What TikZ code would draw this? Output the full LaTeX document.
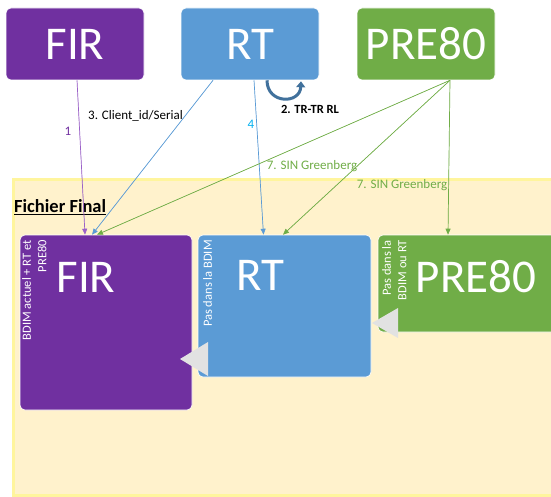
\documentclass[tikz,border=0pt]{standalone}
\usepackage{fontspec}
\setmainfont{Carlito}
\usetikzlibrary{arrows.meta}
\definecolor{cpurple}{HTML}{7030A0}
\definecolor{cblue}{HTML}{5B9BD5}
\definecolor{cgreen}{HTML}{70AD47}
\definecolor{lpurple}{HTML}{9B62C8}
\definecolor{lcyan}{HTML}{00B0F0}
\definecolor{cloop}{HTML}{41719C}
\definecolor{cfill}{HTML}{FFF2CC}
\definecolor{cedge}{HTML}{FFF59D}
\definecolor{cgray}{HTML}{E2E2E2}
\tikzset{
  box/.style={rounded corners=5pt, draw=white, line width=0.6pt, text=white, inner sep=0pt},
  topbox/.style={box, minimum width=138pt, minimum height=72pt, font=\fontsize{47}{50}\selectfont},
  biglabel/.style={text=white, inner sep=0pt, font=\fontsize{47}{50}\selectfont},
  vlabel/.style={text=white, rotate=90, anchor=north east, align=right, inner sep=0pt, font=\fontsize{12.5}{15.5}\selectfont},
  conn/.style={line width=0.7pt, -{Triangle[length=6pt,width=5pt]}},
  lbl/.style={inner sep=0pt, font=\fontsize{13}{15}\selectfont},
  tri/.style={fill=cgray, draw=none}
}
\begin{document}
\begin{tikzpicture}[x=1pt,y=-1pt]
\useasboundingbox (0,0) rectangle (551,497);
% container
\path[fill=cfill, draw=cedge, line width=3pt] (13,180) rectangle (570,495);
\node[anchor=west, inner sep=0pt, font=\fontsize{18.5}{20}\selectfont\bfseries] (ff) at (14,207) {\underline{Fichier Final}};
% top boxes
\node[topbox, fill=cpurple] (fir) at (75,44) {FIR};
\node[topbox, fill=cblue] (rt) at (250,44) {RT};
\node[topbox, fill=cgreen] (pre) at (426,44) {PRE80};
% bottom boxes
\node[box, fill=cpurple, minimum width=172pt, minimum height=175pt] (bfir) at (106,322.5) {};
\node[box, fill=cblue, minimum width=173pt, minimum height=142pt] (brt) at (284.5,306) {};
\node[box, fill=cgreen, minimum width=180pt, minimum height=97pt] (bpre) at (468,283.5) {};
\node[biglabel] (lfir) at (86,277) {FIR};
\node[biglabel] (lrt) at (260,275) {RT};
\node[biglabel] (lpre) at (476,277) {PRE80};
\node[vlabel] (vfir) at (22,240) {BDIM actuel + RT et\\PRE80};
\node[vlabel] (vrt) at (203,240) {Pas dans la BDIM};
\node[vlabel] (vpre) at (382,240) {Pas dans la\\BDIM ou RT};
% gray triangles
\path[tri] (180,359) -- (208,342) -- (208,376) -- cycle;
\path[tri] (372,323) -- (398,308) -- (398,338) -- cycle;
% connectors
\draw[conn, draw=lpurple, fill=cpurple] ([xshift=2pt]fir.south) -- ([xshift=-21pt]bfir.north);
\draw[conn, draw=cblue, fill=cblue] ([xshift=-37pt]rt.south) -- ([xshift=-14pt]bfir.north);
\draw[conn, draw=cblue, fill=cblue] ([xshift=4pt]rt.south) -- ([xshift=-21pt]brt.north);
\draw[conn, draw=cgreen, fill=cgreen] ([xshift=24pt]pre.south) -- ([xshift=-9pt]bfir.north);
\draw[conn, draw=cgreen, fill=cgreen] ([xshift=24pt]pre.south) -- ([xshift=-1.5pt]brt.north);
\draw[conn, draw=cgreen, fill=cgreen] ([xshift=24pt]pre.south) -- ([xshift=-20pt]bpre.north);
% loop
\draw[cloop, line width=3pt, -{Triangle[length=6pt,width=9pt]}] ([xshift=17pt]rt.south) .. controls ([xshift=17pt,yshift=-24pt]rt.south) and ([xshift=50pt,yshift=-24pt]rt.south) .. ([xshift=51pt,yshift=-1pt]rt.south);
% labels
\node[lbl, text=cpurple] (n1) at (68,131) {1};
\node[lbl, anchor=west] (n3) at (88,116) {3. Client\_id/Serial};
\node[lbl, text=lcyan] (n4) at (251,124) {4};
\node[lbl, font=\fontsize{12.5}{15}\selectfont\bfseries] (n2) at (310,109) {2. TR-TR RL};
\node[lbl, text=cgreen] (n7a) at (312,166) {7. SIN Greenberg};
\node[lbl, text=cgreen] (n7b) at (402,185) {7. SIN Greenberg};
\end{tikzpicture}
\end{document}
